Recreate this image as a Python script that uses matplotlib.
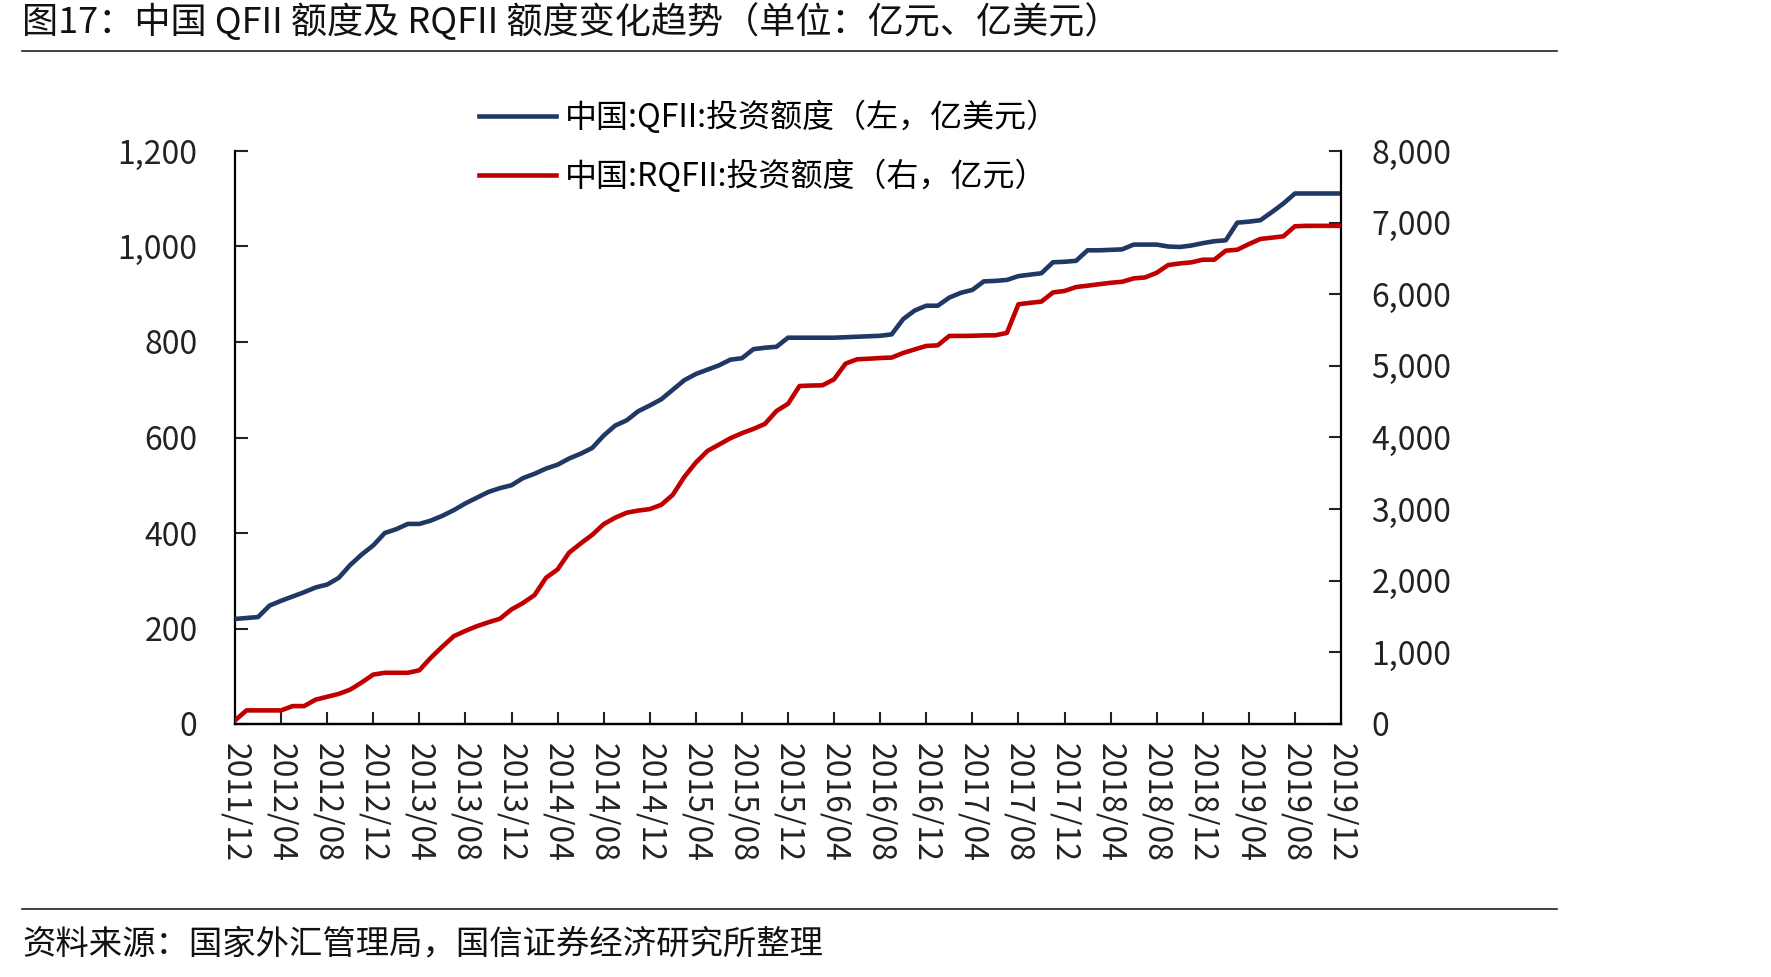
import matplotlib
matplotlib.use("Agg")
import matplotlib.pyplot as plt
import numpy as np
import pandas as pd
from matplotlib.lines import Line2D
from matplotlib.ticker import FuncFormatter

plt.rcParams["font.family"] = ["Noto Sans CJK SC", "DejaVu Sans"]

# months 2011/12 .. 2019/12
months = [p.strftime("%Y/%m") for p in pd.period_range("2011-12", "2019-12", freq="M")]

# QFII investment quota, 100m USD (left axis)
qfii = [
    220, 222, 224, 248, 258, 267, 276, 286, 292, 306,
    333, 355, 374, 400, 408, 419, 419, 426, 436, 448,
    462, 474, 486, 494, 500, 515, 524, 535, 543, 556,
    566, 578, 604, 625, 636, 655, 667, 680, 700, 720,
    733, 742, 751, 763, 766, 785, 788, 790, 809, 809,
    809, 809, 809, 810, 811, 812, 813, 816, 848, 866,
    876, 876, 893, 903, 909, 927, 928, 930, 938, 941,
    944, 967, 968, 970, 992, 992, 993, 994, 1004, 1004,
    1004, 1000, 999, 1002, 1007, 1011, 1013, 1050, 1052, 1055,
    1072, 1090, 1111, 1111, 1111, 1111, 1111,
]

# RQFII investment quota, 100m CNY (right axis)
rqfii = [
    50, 190, 190, 190, 190, 250, 250, 340, 380, 420,
    480, 580, 690, 715, 715, 715, 750, 925, 1080, 1227,
    1300, 1366, 1420, 1470, 1600, 1690, 1800, 2042, 2158, 2392,
    2520, 2640, 2790, 2880, 2950, 2980, 3000, 3060, 3200, 3450,
    3650, 3811, 3900, 3990, 4060, 4120, 4190, 4370, 4470, 4719,
    4725, 4729, 4813, 5032, 5092, 5100, 5110, 5116, 5180, 5230,
    5278, 5287, 5418, 5418, 5420, 5425, 5427, 5460, 5860, 5880,
    5898, 6025, 6046, 6100, 6120, 6140, 6160, 6174, 6221, 6235,
    6300, 6408, 6430, 6445, 6482, 6482, 6608, 6622, 6700, 6772,
    6790, 6809, 6949, 6955, 6955, 6955, 6955,
]

title = "图17：中国 QFII 额度及 RQFII 额度变化趋势（单位：亿元、亿美元）"
source = "资料来源：国家外汇管理局，国信证券经济研究所整理"
label_qfii = "中国:QFII:投资额度（左，亿美元）"
label_rqfii = "中国:RQFII:投资额度（右，亿元）"

BLUE = "#1F3864"
RED = "#C00000"

W, H = 1771, 977
fig = plt.figure(figsize=(W / 100, H / 100), dpi=100)

ax = fig.add_axes([235 / W, 1 - 724 / H, (1341 - 235) / W, (724 - 151) / H])
ax2 = ax.twinx()

x = np.arange(len(months))
ax.plot(x, qfii, color=BLUE, linewidth=3.3, solid_joinstyle="round", zorder=3)
ax2.plot(x, rqfii, color=RED, linewidth=3.3, solid_joinstyle="round", zorder=3)

ax.set_xlim(0, len(months) - 1)
ax.set_ylim(0, 1200)
ax2.set_ylim(0, 8000)
ax.set_yticks(np.arange(0, 1201, 200))
ax2.set_yticks(np.arange(0, 8001, 1000))

fmt = FuncFormatter(lambda v, _: f"{v:,.0f}")
ax.yaxis.set_major_formatter(fmt)
ax2.yaxis.set_major_formatter(fmt)

ax.set_xticks(x[::4])
ax.set_xticklabels(months[::4], rotation=-90, fontsize=21, color="#222222")

for a in (ax, ax2):
    a.spines["top"].set_visible(False)
    for s in a.spines.values():
        s.set_linewidth(1.6)
    a.tick_params(direction="in", length=9, width=1.5, labelsize=23, colors="#222222")
ax.tick_params(axis="y", pad=27)
ax2.tick_params(axis="y", pad=22)
ax.tick_params(axis="x", pad=14)
ax2.spines["left"].set_visible(False)
ax.spines["right"].set_visible(False)

handles = [
    Line2D([], [], color=BLUE, linewidth=3.3),
    Line2D([], [], color=RED, linewidth=3.3),
]
fig.legend(
    handles, [label_qfii, label_rqfii],
    loc="upper left", bbox_to_anchor=(479 / W, 1 - 101 / H),
    frameon=False, fontsize=23, handlelength=2.4, handletextpad=0.3,
    labelspacing=0.8, borderpad=0, borderaxespad=0,
)

fig.text(22 / W, 1 - 22 / H, title, fontsize=26, va="center", ha="left", color="#111111")
fig.add_artist(Line2D([22 / W, 1557 / W], [1 - 51 / H, 1 - 51 / H], color="#222222", linewidth=1.2))
fig.add_artist(Line2D([22 / W, 1557 / W], [1 - 909 / H, 1 - 909 / H], color="#222222", linewidth=1.2))
fig.text(22 / W, 1 - 944 / H, source, fontsize=24, va="center", ha="left", color="#111111")

fig.savefig("out.png", dpi=100)
